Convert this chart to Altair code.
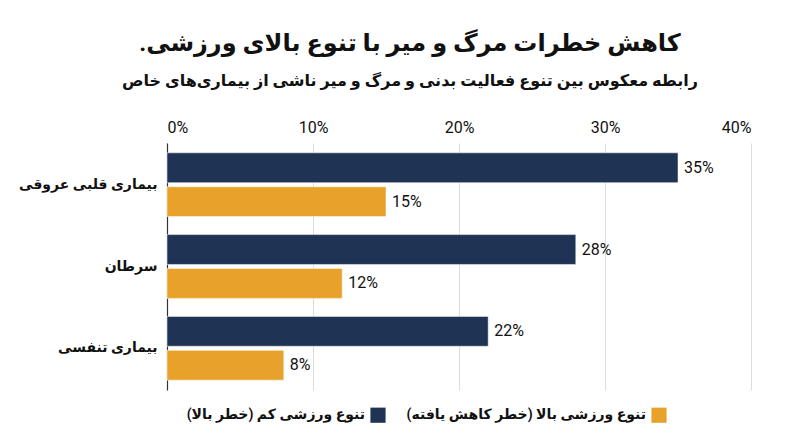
import altair as alt
import pandas as pd

RLM = "\u200f"

# data
diseases = ["بیماری قلبی عروقی", "سرطان", "بیماری تنفسی"]
series = ["تنوع ورزشی کم (خطر بالا)", "تنوع ورزشی بالا (خطر کاهش یافته)"]
navy_vals = [35, 28, 22]
orange_vals = [15, 12, 8]
x_ticks = [0, 10, 20, 30, 40]

df = pd.DataFrame({
    "disease": diseases * 2,
    "group": [series[0]] * 3 + [series[1]] * 3,
    "value": navy_vals + orange_vals,
})
df["label"] = df["value"].astype(str) + "%"

FONT = "Roboto, DejaVu Sans, sans-serif"

base = alt.Chart(df).encode(
    y=alt.Y(
        "disease:N",
        sort=diseases,
        title=None,
        scale=alt.Scale(paddingInner=0.22, paddingOuter=0.12),
        axis=alt.Axis(
            labelFontSize=14, labelFontWeight="bold", labelColor="#111",
            labelPadding=10, ticks=False, domain=True, domainColor="#333",
            domainWidth=1.2, grid=False, minExtent=155, maxExtent=155,
        ),
    ),
    yOffset=alt.YOffset("group:N", sort=series, scale=alt.Scale(paddingInner=0.12)),
)

bars = base.mark_bar(stroke="#ffffff", strokeWidth=0.5).encode(
    x=alt.X(
        "value:Q",
        title=None,
        scale=alt.Scale(domain=[0, 40], nice=False),
        axis=alt.Axis(
            orient="top", values=x_ticks, labelExpr="datum.value + '%'",
            labelFontSize=16, labelColor="#111", labelPadding=8,
            ticks=False, domain=False, gridColor="#dcdcdc", gridWidth=1,
        ),
    ),
    color=alt.Color(
        "group:N",
        sort=series,
        scale=alt.Scale(domain=series, range=["#1f3354", "#e8a22b"]),
        legend=alt.Legend(
            title=None, orient="none", legendX=203, legendY=264,
            direction="horizontal",
            symbolType="square", symbolSize=230, symbolStrokeWidth=0,
            # label sits left of its swatch (right-to-left legend)
            labelOffset=alt.ExprRef("-21"), labelLimit=400,
            labelExpr="datum.label + '\u200f'",
            labelFontSize=14, labelFontWeight="bold", labelColor="#111",
            labelAlign="right", columnPadding=20,
        ),
    ),
)

labels = base.mark_text(align="left", dx=6, fontSize=16, color="#111", font=FONT).encode(
    x="value:Q",
    text="label:N",
)

chart = (
    alt.layer(bars, labels)
    .properties(
        width=584,
        height=247,
        padding={"left": 4, "top": 24, "right": 10, "bottom": 10},
        title=alt.TitleParams(
            "کاهش خطرات مرگ و میر با تنوع بالای ورزشی." + RLM,
            subtitle="رابطه معکوس بین تنوع فعالیت بدنی و مرگ و میر ناشی از بیماری‌های خاص",
            fontSize=24, fontWeight="bold", color="#111",
            subtitleFontSize=16, subtitleFontWeight="bold", subtitleColor="#111",
            subtitlePadding=17, anchor="middle", frame="group", offset=30, dx=-49,
        ),
    )
    .configure(font=FONT)
    .configure_view(stroke=None)
)

chart.save("out.html", embed_options={"renderer": "svg", "actions": False})
